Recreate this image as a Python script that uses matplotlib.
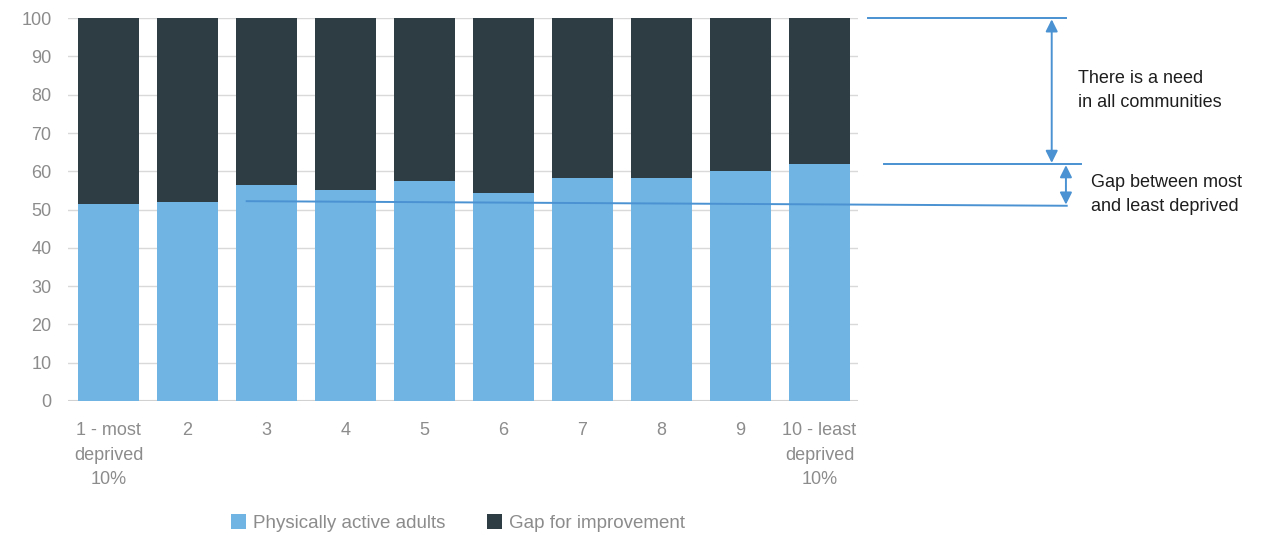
import numpy as np
import matplotlib.pyplot as plt

plt.rcParams['font.family'] = ['Liberation Sans', 'DejaVu Sans']

deciles = ['1 - most\ndeprived\n10%', '2', '3', '4', '5', '6', '7', '8', '9',
           '10 - least\ndeprived\n10%']
active = [51.5, 52.0, 56.5, 55.1, 57.5, 54.3, 58.3, 58.3, 60.2, 61.9]
gap = [100 - v for v in active]

# annotation levels
top_level = 100
least_level = active[-1]
trend_start, trend_end = 52.2, 51.0

blue = '#70B4E3'
dark = '#2E3C44'
line_c = '#4A92D2'
grey = '#8C8C8C'

fig = plt.figure(figsize=(12.62, 5.35), dpi=100)
ax = fig.add_axes([0.054, 0.2505, 0.626, 0.7155])

x = np.arange(len(deciles))
b1 = ax.bar(x, active, 0.77, color=blue, zorder=2)
b2 = ax.bar(x, gap, 0.77, bottom=active, color=dark, zorder=2)

ax.set_xlim(-0.51, 9.49)
ax.set_ylim(0, 100)
ax.set_yticks(range(0, 101, 10))
ax.set_xticks(x)
ax.set_xticklabels(deciles, linespacing=1.6, va='top')
ax.yaxis.grid(True, color='#D9D9D9', lw=1, zorder=0)
ax.axhline(0, color='#D0D0D0', lw=1.5, zorder=1)
for s in ax.spines.values():
    s.set_visible(False)
ax.tick_params(length=0, labelsize=13, colors=grey)
ax.tick_params(axis='x', pad=15)
ax.tick_params(axis='y', pad=12)

# lines and arrows to the right of the bars
kw = dict(color=line_c, lw=1.4, clip_on=False, zorder=5)
ax.plot([9.61, 12.12], [top_level, top_level], **kw)
ax.plot([9.82, 12.31], [least_level, least_level], **kw)
ax.plot([1.75, 12.13], [trend_start, trend_end], **kw)
arrow = dict(arrowstyle='<|-|>', color=line_c, lw=1.4, mutation_scale=18,
             shrinkA=0, shrinkB=0)
ax.annotate('', xy=(11.94, top_level - 0.3), xytext=(11.94, least_level + 0.3),
            arrowprops=arrow, annotation_clip=False)
ax.annotate('', xy=(12.12, least_level - 0.3), xytext=(12.12, trend_end + 0.3),
            arrowprops=arrow, annotation_clip=False)
ax.text(12.27, 81, 'There is a need\nin all communities', fontsize=13,
        color='#1E1E1E', va='center', ha='left', linespacing=1.55)
ax.text(12.44, 53.9, 'Gap between most\nand least deprived', fontsize=13,
        color='#1E1E1E', va='center', ha='left', linespacing=1.55)

fig.legend([b1, b2], ['Physically active adults', 'Gap for improvement'],
           loc='center', bbox_to_anchor=(0.363, 0.022), ncol=2, frameon=False,
           fontsize=13.5, labelcolor=grey, handlelength=0.8, handleheight=0.8,
           handletextpad=0.4, columnspacing=2.2)

fig.savefig('out.png', dpi=100)
